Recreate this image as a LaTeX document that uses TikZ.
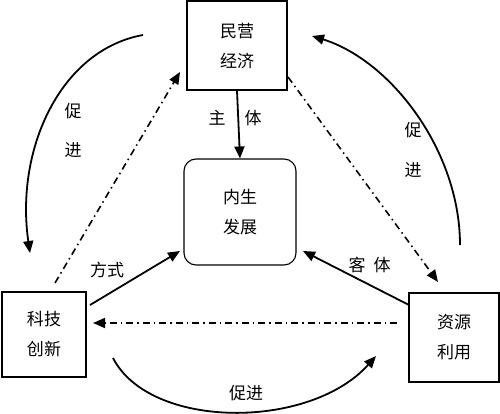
\documentclass[tikz,border=0pt]{standalone}
\usepackage{fontspec}
\newfontfamily\cjk{Noto Sans CJK SC}
\usetikzlibrary{arrows.meta}
\begin{document}
\begin{tikzpicture}[x=1pt,y=-1pt,
  font=\cjk\fontsize{17}{30}\selectfont,
  box/.style={draw,line width=1.1pt,align=center,inner sep=0pt},
  arr/.style={line width=1.8pt,-{Triangle[length=12pt,width=10pt]}},
  dd/.style={line width=1.6pt,dash pattern=on 7pt off 4pt on 1.5pt off 4pt,-{Triangle[length=12pt,width=10pt]}},
  lbl/.style={inner sep=0pt}]
\useasboundingbox (0,0) rectangle (500,414);
\node[box,minimum width=100pt,minimum height=89pt] (my) at (237,45.5) {民营\\经济};
\node[box,rounded corners=12pt,minimum width=112pt,minimum height=106pt] (ns) at (240,212) {内生\\发展};
\node[box,minimum width=84pt,minimum height=85pt] (kj) at (44,334.5) {科技\\创新};
\node[box,minimum width=90pt,minimum height=89pt] (zy) at (454,337.5) {资源\\利用};
% solid arrows
\draw[arr] (my.south) -- (ns.north);
\node[lbl] (zhu) at (217,118) {主};
\node[lbl] (ti1) at (253,118) {体};
\coordinate (fs1) at (90,305);
\coordinate (fs2) at (180,251);
\draw[arr] (fs1) -- (fs2);
\node[lbl] (fs) at (107,270) {方式};
\coordinate (kt1) at (409,305);
\coordinate (kt2) at (303,251);
\draw[arr] (kt1) -- (kt2);
\node[lbl] (ke) at (357,265) {客};
\node[lbl] (ti2) at (382,265) {体};
% dash-dot
\coordinate (h1) at (397,323);
\coordinate (h2) at (93,323);
\draw[dd] (h1) -- (h2);
\coordinate (l1) at (55,283);
\coordinate (l2) at (180,72);
\draw[dd] (l1) -- (l2);
\coordinate (r1) at (288,77);
\coordinate (r2) at (438,282);
\draw[dd] (r1) -- (r2);
% curves
\coordinate (c1) at (143,35);
\coordinate (c2) at (30,253);
\draw[arr] (c1) .. controls (60,50) and (15,150) .. (c2);
\node[lbl] (lc1) at (73,111) {促};
\node[lbl] (lc2) at (73,150) {进};
\coordinate (c3) at (460,245);
\coordinate (c4) at (312,36);
\draw[arr] (c3) .. controls (460,150) and (390,60) .. (c4);
\node[lbl] (rc1) at (413,130) {促};
\node[lbl] (rc2) at (413,170) {进};
\coordinate (c5) at (113,358);
\coordinate (c6) at (376,356);
\draw[arr] (c5) .. controls (150,430) and (310,430) .. (c6);
\node[lbl] (bc) at (246,393) {促进};
\end{tikzpicture}
\end{document}
